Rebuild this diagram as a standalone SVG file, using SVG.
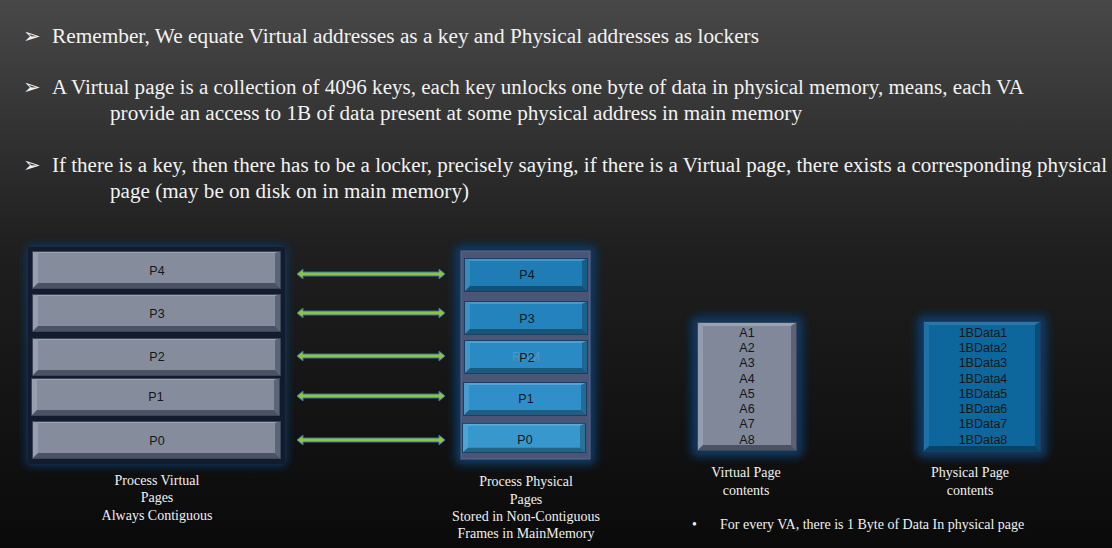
<svg xmlns="http://www.w3.org/2000/svg" width="1112" height="548" viewBox="0 0 1112 548">
<defs>
<linearGradient id="bg" x1="0" y1="0" x2="0" y2="1">
<stop offset="0" stop-color="#484848"/>
<stop offset="0.45" stop-color="#1f1f1f"/>
<stop offset="1" stop-color="#0a0a0a"/>
</linearGradient>
<filter id="glow" x="-20%" y="-20%" width="140%" height="140%"><feGaussianBlur stdDeviation="4"/></filter>
<symbol id="vbox" viewBox="0 0 249 38" width="249" height="38">
<rect x="0" y="0" width="249" height="38" fill="#858d9d"/>
<polygon points="0,0 249,0 243,2 6,2" fill="#9ca4b2"/>
<polygon points="0,0 6,2 6,32 0,38" fill="#979fae"/>
<polygon points="249,0 249,38 243,32 243,2" fill="#5c6577"/>
<polygon points="0,38 6,32 243,32 249,38" fill="#4a5263"/>
<rect x="0.5" y="0.5" width="248" height="37" fill="none" stroke="#3d4658" stroke-width="1"/>
</symbol>
<symbol id="pbox" viewBox="0 0 124 34" width="124" height="34" preserveAspectRatio="none">
<polygon points="0,0 124,0 118,3 6,3" fill="#ffffff" fill-opacity="0.18"/>
<polygon points="0,0 6,3 6,28 0,34" fill="#ffffff" fill-opacity="0.12"/>
<polygon points="124,0 124,34 118,28 118,3" fill="#000000" fill-opacity="0.25"/>
<polygon points="0,34 6,28 118,28 124,34" fill="#000000" fill-opacity="0.35"/>
<rect x="0.5" y="0.5" width="123" height="33" fill="none" stroke="#1d3e63" stroke-width="1"/>
</symbol>
<path id="arr" d="M297,0 L303,-5 L303,-2 L439,-2 L439,-5 L445,0 L439,5 L439,2 L303,2 L303,5 Z" fill="#8cc63f" stroke="#3f6fae" stroke-width="1"/>
</defs>
<style>
.top{font-family:"Liberation Serif",serif;font-size:20.5px;fill:#f2f2f2}
.bul{font-family:"DejaVu Sans",sans-serif;font-size:21px;fill:#f2f2f2}
.lbl{font-family:"Liberation Sans",sans-serif;font-size:12.5px;fill:#161616;text-anchor:middle}
.cap{font-family:"Liberation Serif",serif;font-size:14px;fill:#f0f0f0;text-anchor:middle}
.capl{font-family:"Liberation Serif",serif;font-size:14px;fill:#f0f0f0}
.glow{fill:#103764;filter:url(#glow)}
</style>
<rect width="1112" height="548" fill="url(#bg)"/>

<g id="text-block">
<text class="bul" x="23" y="43">➢</text>
<text class="top" x="52" y="43" textLength="707" lengthAdjust="spacingAndGlyphs">Remember, We equate Virtual addresses as a key and Physical addresses as lockers</text>
<text class="bul" x="23" y="94">➢</text>
<text class="top" x="52" y="94" textLength="972" lengthAdjust="spacingAndGlyphs">A Virtual page is a collection of 4096 keys, each key unlocks one byte of data in physical memory, means, each VA</text>
<text class="top" x="110" y="120" textLength="692" lengthAdjust="spacingAndGlyphs">provide an access to 1B of data present at some physical address in main memory</text>
<text class="bul" x="23" y="172">➢</text>
<text class="top" x="52" y="172" textLength="1055" lengthAdjust="spacingAndGlyphs">If there is a key, then there has to be a locker, precisely saying, if there is a Virtual page, there exists a corresponding physical</text>
<text class="top" x="110" y="198" textLength="359" lengthAdjust="spacingAndGlyphs">page (may be on disk on in main memory)</text>
</g>

<g id="virtual-pages">
<rect class="glow" x="26" y="245" width="261" height="221" rx="6"/>
<rect x="28" y="247" width="257" height="217" fill="#111d2e"/>
<use href="#vbox" x="32" y="251"/><text class="lbl" x="157" y="275">P4</text>
<use href="#vbox" x="32" y="294"/><text class="lbl" x="157" y="318">P3</text>
<use href="#vbox" x="32" y="338"/><text class="lbl" x="157" y="361">P2</text>
<use href="#vbox" x="31" y="378"/><text class="lbl" x="156" y="401">P1</text>
<use href="#vbox" x="32" y="421"/><text class="lbl" x="157" y="445">P0</text>
</g>

<g id="physical-pages">
<rect class="glow" x="455" y="245" width="141" height="220" rx="6"/>
<rect x="461" y="251" width="129" height="208" fill="#4b5677" stroke="#5d6a8c" stroke-width="1"/>
<rect x="464" y="258" width="124" height="34" fill="#1f7cb4"/><use href="#pbox" x="464" y="258"/><text class="lbl" x="527" y="279">P4</text>
<rect x="464" y="301" width="124" height="33" fill="#2383bc"/><use href="#pbox" x="464" y="301"/><text class="lbl" x="527" y="323">P3</text>
<rect x="464" y="340" width="124" height="34" fill="#2a8ac3"/><use href="#pbox" x="464" y="340"/>
<text x="526" y="361" font-family="Liberation Sans, sans-serif" font-size="12.5" fill="#5a9bcc" fill-opacity="0.8" text-anchor="middle">RAM</text>
<text class="lbl" x="527" y="362">P2</text>
<rect x="463" y="382" width="124" height="34" fill="#308fc8"/><use href="#pbox" x="463" y="382"/><text class="lbl" x="526" y="403">P1</text>
<rect x="462" y="423" width="124" height="30" fill="#3798ce"/><use href="#pbox" x="462" y="423" width="124" height="30"/><text class="lbl" x="525" y="444">P0</text>
</g>

<g id="connectors">
<use href="#arr" y="274"/>
<use href="#arr" y="313"/>
<use href="#arr" y="356"/>
<use href="#arr" y="396"/>
<use href="#arr" y="440"/>
</g>

<g id="virtual-contents">
<rect class="glow" x="691" y="316" width="112" height="141" rx="6"/>
<rect x="697" y="322" width="100" height="129" fill="#80889a"/>
<polygon points="697,322 797,322 791,326 703,326" fill="#9aa2b1"/>
<polygon points="697,322 703,326 703,445 697,451" fill="#959dac"/>
<polygon points="797,322 797,451 791,445 791,326" fill="#5a6375"/>
<polygon points="697,451 703,445 791,445 797,451" fill="#4a5263"/>
<rect x="697.5" y="322.5" width="99" height="128" fill="none" stroke="#3d4658"/>
<text class="lbl" x="747" y="337">A1</text>
<text class="lbl" x="747" y="352">A2</text>
<text class="lbl" x="747" y="367">A3</text>
<text class="lbl" x="747" y="383">A4</text>
<text class="lbl" x="747" y="398">A5</text>
<text class="lbl" x="747" y="413">A6</text>
<text class="lbl" x="747" y="428">A7</text>
<text class="lbl" x="747" y="444">A8</text>
</g>

<g id="physical-contents">
<rect class="glow" x="917" y="315" width="130" height="143" rx="6"/>
<rect x="923" y="321" width="118" height="131" fill="#0d669c"/>
<polygon points="923,321 1041,321 1035,325 929,325" fill="#ffffff" fill-opacity="0.12"/>
<polygon points="923,321 929,325 929,446 923,452" fill="#ffffff" fill-opacity="0.08"/>
<polygon points="1041,321 1041,452 1035,446 1035,325" fill="#000000" fill-opacity="0.25"/>
<polygon points="923,452 929,446 1035,446 1041,452" fill="#000000" fill-opacity="0.35"/>
<rect x="923.5" y="321.5" width="117" height="130" fill="none" stroke="#1d3e63"/>
<text class="lbl" x="983" y="337">1BData1</text>
<text class="lbl" x="983" y="352">1BData2</text>
<text class="lbl" x="983" y="367">1BData3</text>
<text class="lbl" x="983" y="383">1BData4</text>
<text class="lbl" x="983" y="398">1BData5</text>
<text class="lbl" x="983" y="413">1BData6</text>
<text class="lbl" x="983" y="428">1BData7</text>
<text class="lbl" x="983" y="444">1BData8</text>
</g>

<g id="captions">
<text class="cap" x="157" y="485">Process Virtual</text>
<text class="cap" x="157" y="502">Pages</text>
<text class="cap" x="157" y="520">Always Contiguous</text>
<text class="cap" x="526" y="486">Process Physical</text>
<text class="cap" x="526" y="504">Pages</text>
<text class="cap" x="526" y="521">Stored in Non-Contiguous</text>
<text class="cap" x="526" y="538">Frames in MainMemory</text>
<text class="cap" x="746" y="477">Virtual Page</text>
<text class="cap" x="746" y="495">contents</text>
<text class="cap" x="970" y="477">Physical Page</text>
<text class="cap" x="970" y="495">contents</text>
<text class="capl" x="692" y="529">•</text>
<text class="capl" x="720" y="529">For every VA, there is 1 Byte of Data In physical page</text>
</g>
</svg>
